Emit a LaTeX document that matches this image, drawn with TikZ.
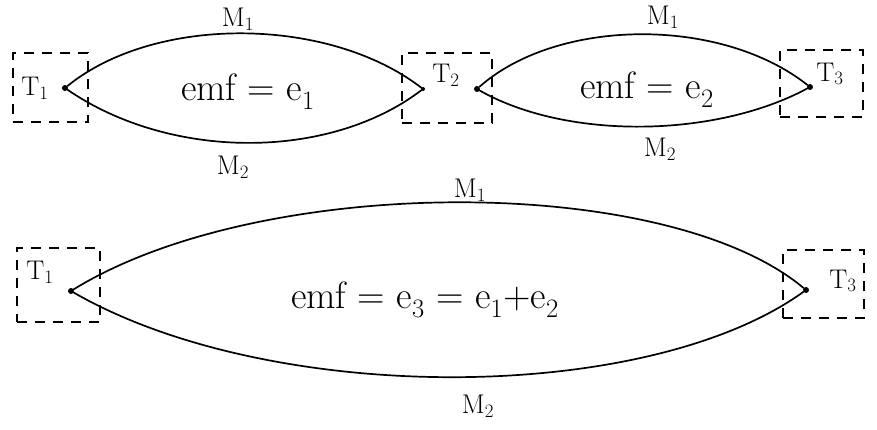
\documentclass[tikz,border=0pt]{standalone}
\usepackage{tikz}
\usetikzlibrary{positioning}

\newcommand{\idx}[2]{#1\textsubscript{#2}}

\begin{document}
\begin{tikzpicture}[
    x=1pt, y=-1pt,
    wire/.style={line width=1.7pt, line cap=round},
    termbox/.style={draw, line width=1.3pt, dash pattern=on 10pt off 8pt,
                    minimum width=#1, inner sep=0pt},
    junc/.style={circle, fill, inner sep=0pt, minimum size=6pt},
    lbl/.style={font=\fontsize{27}{30}\selectfont},
    emf/.style={font=\fontsize{38}{42}\selectfont},
  ]
  \useasboundingbox (0,0) rectangle (877,429);

  % Loop 1
  \node[termbox=75pt, minimum height=69pt] (box1) at (50.5,87.5) {};
  \node[termbox=90pt, minimum height=70pt] (box2) at (447,88) {};
  \node[junc] (ta) at (65,88) {};
  \node[junc, minimum size=4pt] (tb) at (423,89) {};
  \node[lbl] (lt1) at (35,88) {\idx{T}{1}};
  \node[lbl] (lt2) at (446,75) {\idx{T}{2}};
  \draw[wire] (ta) .. controls +(90,-73) and +(-95,-73) .. (tb);
  \draw[wire] (ta) .. controls +(105,72) and +(-95,72) .. (tb);
  \node[lbl] (m1a) at (238,19) {\idx{M}{1}};
  \node[lbl] (m2a) at (233,167) {\idx{M}{2}};
  \node[emf] (ea) at (248,92) {emf = \idx{e}{1}};

  % Loop 2
  \node[termbox=83pt, minimum height=67pt] (box3) at (821.5,83.5) {};
  \node[junc] (tc) at (477,89) {};
  \node[junc] (td) at (810,87) {};
  \node[lbl] (lt3) at (830,74) {\idx{T}{3}};
  \draw[wire] (tc) .. controls +(80,-71) and +(-90,-71) .. (td);
  \draw[wire] (tc) .. controls +(90,51) and +(-95,51) .. (td);
  \node[lbl] (m1b) at (663,17) {\idx{M}{1}};
  \node[lbl] (m2b) at (660,149) {\idx{M}{2}};
  \node[emf] (eb) at (647,90) {emf = \idx{e}{2}};

  % Loop 3
  \node[termbox=83pt, minimum height=74pt] (box4) at (58.5,285) {};
  \node[termbox=81pt, minimum height=68pt] (box5) at (823.5,284) {};
  \node[junc] (te) at (71,291) {};
  \node[junc] (tf) at (806,290) {};
  \node[lbl] (lt4) at (40,272) {\idx{T}{1}};
  \node[lbl] (lt5) at (843,281) {\idx{T}{3}};
  \draw[wire] (te) .. controls +(190,-117) and +(-140,-117) .. (tf);
  \draw[wire] (te) .. controls +(200,115) and +(-160,115) .. (tf);
  \node[lbl] (m1c) at (470,190) {\idx{M}{1}};
  \node[lbl] (m2c) at (478,406) {\idx{M}{2}};
  \node[emf] (ec) at (425,300) {emf = \idx{e}{3} = \idx{e}{1}+\idx{e}{2}};
\end{tikzpicture}
\end{document}
